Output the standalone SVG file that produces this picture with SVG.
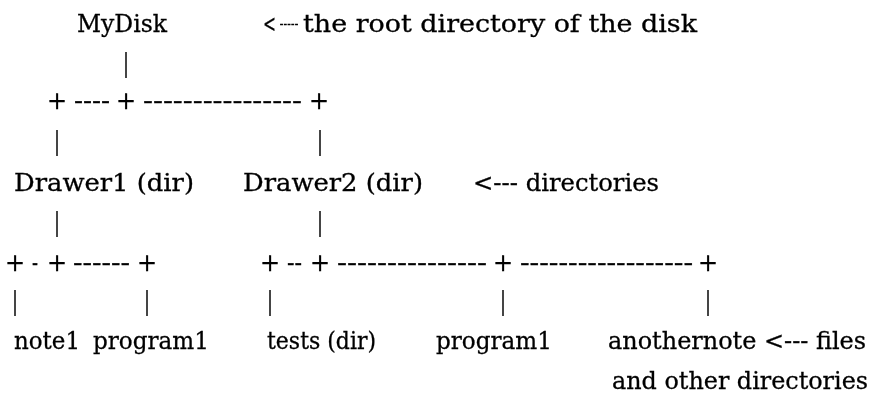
<svg xmlns="http://www.w3.org/2000/svg" width="887" height="394" viewBox="0 0 887 394">
  <style>
    text { font-family: "DejaVu Serif", "Liberation Serif", serif; font-size: 24px; fill: #000; stroke: #000; stroke-width: 0.3px; }
    .bar { font-family: "Liberation Serif", serif; font-size: 30px; text-anchor: middle; stroke: none; }
    .plus { text-anchor: middle; }
    .tiny { font-size: 9px; stroke-width: 0.6px; }
  </style>
  <defs>
    <!-- pass-through filter: renders the text off-screen with plain grey anti-aliasing -->
    <filter id="flat" x="-0.05" y="-0.05" width="1.1" height="1.1">
      <feOffset dx="0" dy="0"/>
    </filter>
  </defs>
  <rect width="887" height="394" fill="#fff"/>

  <g filter="url(#flat)">
    <!-- tree nodes -->
    <g id="mydisk">
      <text x="77" y="32" textLength="90" lengthAdjust="spacingAndGlyphs">MyDisk</text>
    </g>
    <g id="note-root">
      <text x="263" y="32" textLength="13" lengthAdjust="spacingAndGlyphs">&lt;</text>
      <text class="tiny" x="280" y="26.5" textLength="18" lengthAdjust="spacing">-----</text>
      <text x="303" y="32" textLength="394" lengthAdjust="spacingAndGlyphs">the root directory of the disk</text>
    </g>
    <g id="drawer1">
      <text x="14" y="191" textLength="180" lengthAdjust="spacingAndGlyphs">Drawer1 (dir)</text>
    </g>
    <g id="drawer2">
      <text x="243" y="191" textLength="180" lengthAdjust="spacingAndGlyphs">Drawer2 (dir)</text>
    </g>
    <g id="note-dirs">
      <text x="473" y="191" textLength="186" lengthAdjust="spacingAndGlyphs">&lt;--- directories</text>
    </g>
    <g id="note1">
      <text x="14" y="349" textLength="66" lengthAdjust="spacingAndGlyphs">note1</text>
    </g>
    <g id="program1-a">
      <text x="93" y="349" textLength="116" lengthAdjust="spacingAndGlyphs">program1</text>
    </g>
    <g id="tests">
      <text x="267" y="349" textLength="109" lengthAdjust="spacingAndGlyphs">tests (dir)</text>
    </g>
    <g id="program1-b">
      <text x="436" y="349" textLength="116" lengthAdjust="spacingAndGlyphs">program1</text>
    </g>
    <g id="anothernote">
      <text x="608" y="349" textLength="258" lengthAdjust="spacingAndGlyphs">anothernote &lt;--- files</text>
      <text x="612" y="389" textLength="256" lengthAdjust="spacingAndGlyphs">and other directories</text>
    </g>

    <!-- connectors drawn with + - | characters -->
    <g id="connectors">
      <text class="bar" x="126" y="72">|</text>

      <text class="plus" x="57" y="109">+</text>
      <text x="74" y="109" textLength="36" lengthAdjust="spacingAndGlyphs">----</text>
      <text class="plus" x="126" y="109">+</text>
      <text x="143" y="109" textLength="159" lengthAdjust="spacingAndGlyphs">----------------</text>
      <text class="plus" x="319" y="109">+</text>

      <text class="bar" x="57" y="150">|</text>
      <text class="bar" x="320" y="150">|</text>

      <text class="bar" x="57" y="231">|</text>
      <text class="bar" x="320" y="231">|</text>

      <text class="plus" x="15" y="271">+</text>
      <text x="32" y="271" textLength="6" lengthAdjust="spacingAndGlyphs">-</text>
      <text class="plus" x="57" y="271">+</text>
      <text x="73" y="271" textLength="57" lengthAdjust="spacingAndGlyphs">------</text>
      <text class="plus" x="147" y="271">+</text>

      <text class="plus" x="270" y="271">+</text>
      <text x="287" y="271" textLength="15" lengthAdjust="spacingAndGlyphs">--</text>
      <text class="plus" x="320" y="271">+</text>
      <text x="337" y="271" textLength="150" lengthAdjust="spacingAndGlyphs">---------------</text>
      <text class="plus" x="503" y="271">+</text>
      <text x="520" y="271" textLength="173" lengthAdjust="spacingAndGlyphs">------------------</text>
      <text class="plus" x="708" y="271">+</text>

      <text class="bar" x="15" y="310">|</text>
      <text class="bar" x="147" y="310">|</text>
      <text class="bar" x="270" y="310">|</text>
      <text class="bar" x="503" y="310">|</text>
      <text class="bar" x="708" y="310">|</text>
    </g>
  </g>
</svg>
